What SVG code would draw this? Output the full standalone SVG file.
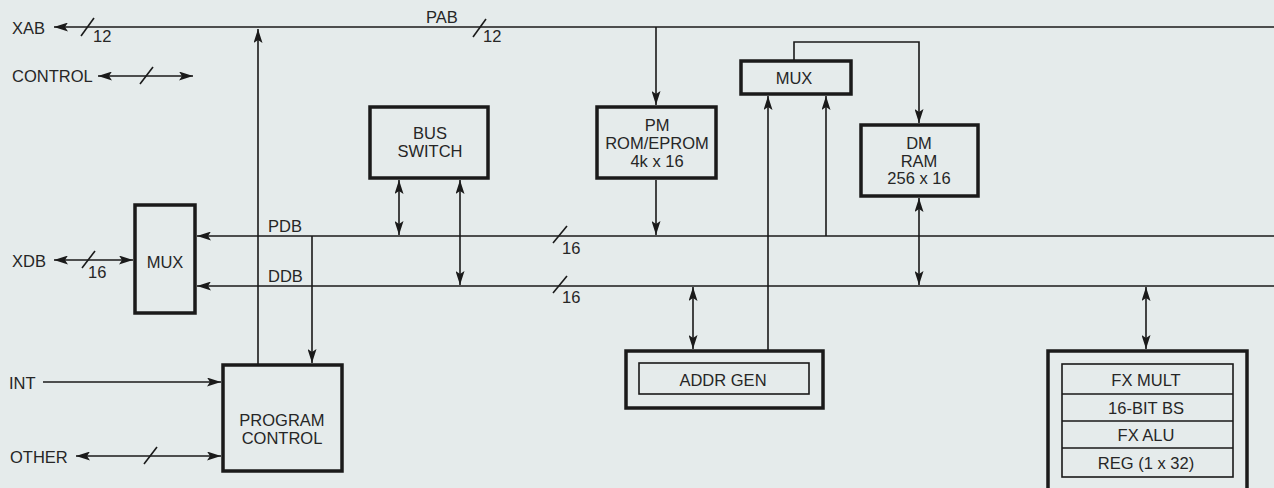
<svg xmlns="http://www.w3.org/2000/svg" width="1274" height="488" viewBox="0 0 1274 488">
<defs>
<marker id="ah" viewBox="0 0 14 9" refX="14" refY="4.5" markerWidth="14" markerHeight="9" markerUnits="userSpaceOnUse" orient="auto-start-reverse">
<path d="M0,0 L14,4.5 L0,9 L3,4.5 Z" fill="#1a1a1a"/>
</marker>
<style>
.t{font-family:"Liberation Sans",Arial,sans-serif;font-size:16.5px;fill:#262626}
.c{text-anchor:middle}
.w{fill:none;stroke:#1a1a1a;stroke-width:1.6}
.box{fill:none;stroke:#1a1a1a;stroke-width:3.5}
.ib{fill:none;stroke:#1a1a1a;stroke-width:1.6}
.a{marker-end:url(#ah)}
.aa{marker-start:url(#ah);marker-end:url(#ah)}
</style>
</defs>
<rect width="1274" height="488" fill="#e5ebeb"/>

<g id="connectors">
<!-- PAB / XAB bus -->
<path class="w a" d="M1274,27 L54,27"/>
<path class="w" d="M81,36 L94,18"/>
<path class="w" d="M473,37 L486,19"/>
<!-- CONTROL -->
<path class="w aa" d="M98,76 L193,76"/>
<path class="w" d="M140,84 L153,67"/>
<!-- PDB / DDB buses -->
<path class="w a" d="M1274,236 L197,236"/>
<path class="w a" d="M1274,286 L197,286"/>
<path class="w" d="M553,243 L567,226"/>
<path class="w" d="M553,293 L567,276"/>
<!-- XDB -->
<path class="w aa" d="M54,260 L133,260"/>
<path class="w" d="M82,268 L95,251"/>
<!-- program control vertical to PAB -->
<path class="w a" d="M258,365 L258,29"/>
<!-- PDB down to program control -->
<path class="w a" d="M312,236 L312,363"/>
<!-- bus switch arrows -->
<path class="w aa" d="M399,180 L399,235"/>
<path class="w aa" d="M460,180 L460,285"/>
<!-- PM -->
<path class="w a" d="M656,27 L656,105"/>
<path class="w a" d="M656,180 L656,235"/>
<!-- MUX to DM -->
<path class="w a" d="M794,61 L794,42 L919,42 L919,123"/>
<!-- into top MUX -->
<path class="w a" d="M768,351 L768,96"/>
<path class="w a" d="M826,236 L826,96"/>
<!-- DM to DDB -->
<path class="w aa" d="M919,198 L919,285"/>
<!-- ADDR GEN -->
<path class="w aa" d="M693,287 L693,349"/>
<!-- FX -->
<path class="w aa" d="M1146,287 L1146,349"/>
<!-- INT -->
<path class="w a" d="M43,382 L221,382"/>
<!-- OTHER -->
<path class="w aa" d="M76,456 L221,456"/>
<path class="w" d="M144,464 L157,447"/>
</g>

<g id="labels">
<text class="t" x="12" y="34">XAB</text>
<text class="t" x="93" y="42">12</text>
<text class="t" x="426" y="23">PAB</text>
<text class="t" x="483" y="42">12</text>
<text class="t" x="12" y="82">CONTROL</text>
<text class="t" x="12" y="267">XDB</text>
<text class="t" x="88" y="278">16</text>
<text class="t" x="268" y="232">PDB</text>
<text class="t" x="268" y="282">DDB</text>
<text class="t" x="562" y="254">16</text>
<text class="t" x="562" y="303">16</text>
<text class="t" x="9" y="389">INT</text>
<text class="t" x="10" y="463">OTHER</text>
</g>

<g id="mux-left">
<rect class="box" x="135" y="205" width="60" height="108"/>
<text class="t c" x="165" y="268">MUX</text>
</g>

<g id="bus-switch">
<rect class="box" x="370" y="107" width="118" height="71"/>
<text class="t c" x="430" y="139">BUS</text>
<text class="t c" x="430" y="157">SWITCH</text>
</g>

<g id="pm">
<rect class="box" x="597" y="107" width="119" height="71"/>
<text class="t c" x="657" y="131">PM</text>
<text class="t c" x="657" y="149">ROM/EPROM</text>
<text class="t c" x="657" y="167">4k x 16</text>
</g>

<g id="mux-top">
<rect class="box" x="741" y="61" width="110" height="33"/>
<text class="t c" x="794" y="84">MUX</text>
</g>

<g id="dm">
<rect class="box" x="861" y="125" width="117" height="71"/>
<text class="t c" x="919" y="149">DM</text>
<text class="t c" x="919" y="167">RAM</text>
<text class="t c" x="919" y="184">256 x 16</text>
</g>

<g id="addr-gen">
<rect class="box" x="626" y="351" width="197" height="57"/>
<rect class="ib" x="639" y="363" width="170" height="31"/>
<text class="t c" x="723" y="386">ADDR GEN</text>
</g>

<g id="fx-unit">
<rect class="box" x="1048" y="351" width="199" height="150"/>
<rect class="ib" x="1062" y="364" width="171" height="113"/>
<path class="ib" d="M1062,394 L1233,394 M1062,421 L1233,421 M1062,448 L1233,448"/>
<text class="t c" x="1146" y="386">FX MULT</text>
<text class="t c" x="1146" y="414">16-BIT BS</text>
<text class="t c" x="1146" y="441">FX ALU</text>
<text class="t c" x="1146" y="469">REG (1 x 32)</text>
</g>

<g id="program-control">
<rect class="box" x="223" y="365" width="119" height="106"/>
<text class="t c" x="282" y="426">PROGRAM</text>
<text class="t c" x="282" y="444">CONTROL</text>
</g>
</svg>
